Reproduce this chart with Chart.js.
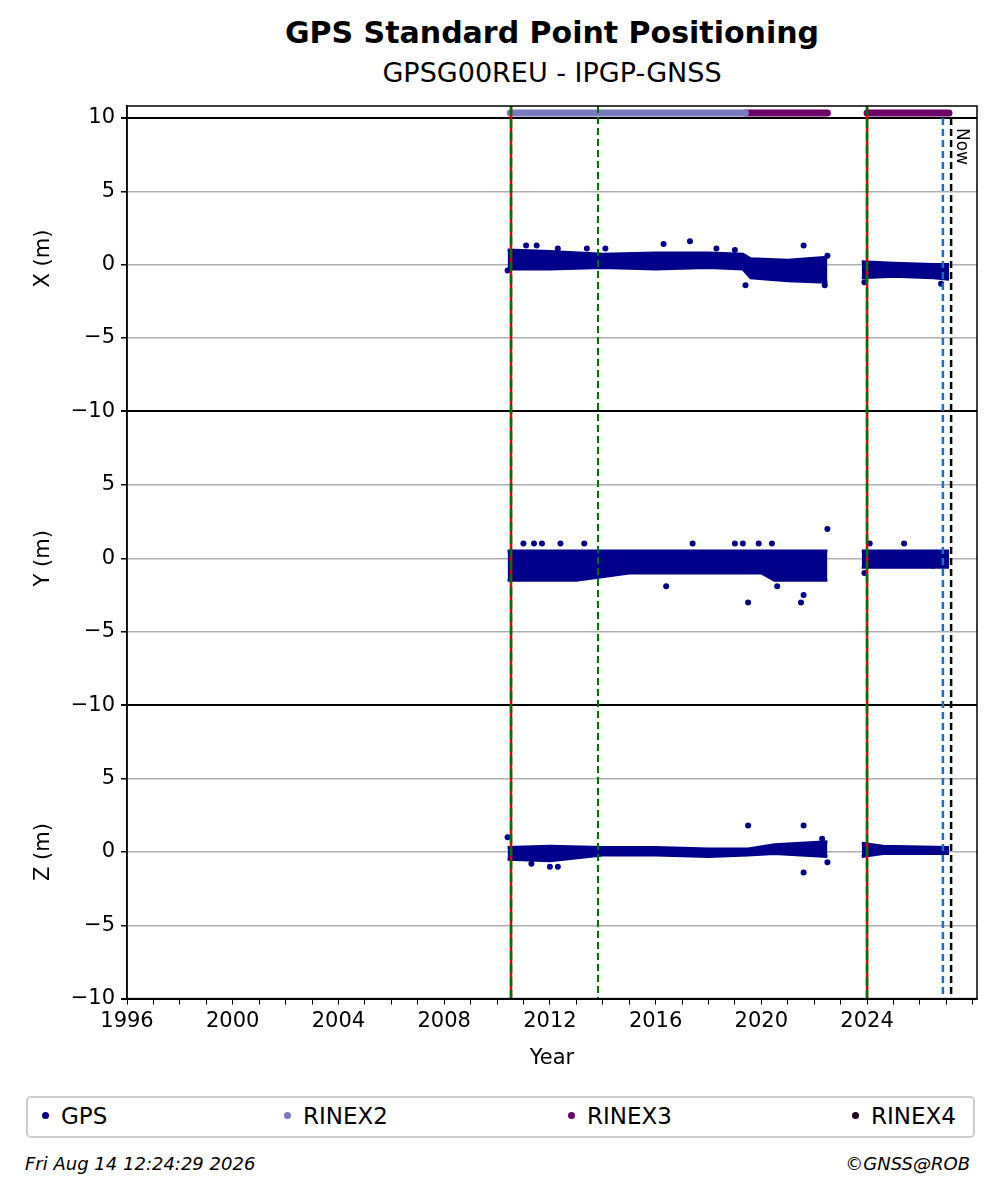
<!DOCTYPE html>
<html><head><meta charset="utf-8">
<script src="https://cdn.jsdelivr.net/npm/chart.js@4"></script>
<style>
body{margin:0;width:997px;height:1194px;background:#fff;font-family:"DejaVu Sans",sans-serif;position:relative;overflow:hidden}
#wrap{position:absolute;left:0;top:0;width:997px;height:1085px}
.t{position:absolute;left:127px;width:850px;text-align:center;color:#000;white-space:nowrap}
#legend{position:absolute;left:26px;top:1096px;width:949px;height:42px;border:2px solid #ccc;border-radius:5px;box-sizing:border-box}
.li{position:absolute;top:5px;font-size:23px}
.li span{display:inline-block;width:7px;height:7px;border-radius:50%;margin-right:12px;vertical-align:middle;position:relative;top:-2px}
.foot{position:absolute;top:1153px;font-size:18px;font-style:italic}
</style></head><body>
<div class="t" style="top:15px;font-size:30px;font-weight:bold">GPS Standard Point Positioning</div>
<div class="t" style="top:57px;font-size:27px">GPSG00REU - IPGP-GNSS</div>
<div id="wrap"><canvas id="c"></canvas></div>
<div id="legend">
<div class="li" style="left:14px"><span style="background:#00008B"></span>GPS</div>
<div class="li" style="left:256px"><span style="background:#7B7BBF"></span>RINEX2</div>
<div class="li" style="left:540px"><span style="background:#6B0066"></span>RINEX3</div>
<div class="li" style="left:824px"><span style="background:#220022"></span>RINEX4</div>
</div>
<div class="foot" style="left:25px">Fri Aug 14 12:24:29 2026</div>
<div class="foot" style="right:27px">©GNSS@ROB</div>
<script>
// envelopes of the dense daily solutions [year, value]
const xUpper = [[2010.4,1.0],[2012,0.9],[2014,0.7],[2016,0.8],[2018,0.8],[2019.3,0.7],[2019.6,0.4],[2021,0.3],[2022.5,0.5],[null,null],[2023.8,0.2],[2025,0.1],[2026.5,0.0],[2027.1,0.0]];
const xLower = [[2010.4,-0.3],[2012,-0.3],[2014,-0.2],[2016,-0.3],[2018,-0.2],[2019.3,-0.3],[2019.6,-0.9],[2021,-1.1],[2022.5,-1.2],[null,null],[2023.8,-0.9],[2025,-0.8],[2026.5,-0.9],[2027.1,-1.0]];
const xOut = [[2010.4,-0.4],[2011.1,1.3],[2011.5,1.3],[2012.3,1.1],[2013.4,1.1],[2014.1,1.1],[2016.3,1.4],[2017.3,1.6],[2018.3,1.1],[2019.0,1.0],[2019.4,-1.4],[2021.6,1.3],[2022.4,-1.4],[2022.5,0.6],[2023.9,-1.2],[2026.8,-1.3]];
const yUpper = [[2010.4,0.5],[2013,0.5],[2016,0.5],[2019,0.5],[2020,0.5],[2022.5,0.5],[null,null],[2023.8,0.5],[2027.1,0.5]];
const yLower = [[2010.4,-1.5],[2013,-1.5],[2015,-1.0],[2019,-1.0],[2020,-1.0],[2020.5,-1.5],[2022.5,-1.5],[null,null],[2023.8,-0.6],[2027.1,-0.6]];
const yOut = [[2011.0,1.0],[2011.4,1.0],[2011.7,1.0],[2012.4,1.0],[2013.3,1.0],[2016.4,-1.9],[2017.4,1.0],[2019.0,1.0],[2019.3,1.0],[2019.5,-3.0],[2019.9,1.0],[2020.4,1.0],[2020.6,-1.9],[2021.5,-3.0],[2021.6,-2.5],[2022.5,2.0],[2023.9,-1.0],[2024.1,1.0],[2025.4,1.0],[2026.5,-0.5]];
const zUpper = [[2010.4,0.3],[2012,0.4],[2014,0.3],[2016,0.3],[2018,0.2],[2019.5,0.2],[2020.5,0.5],[2022.5,0.7],[null,null],[2023.8,0.6],[2024.6,0.4],[2027.1,0.3]];
const zLower = [[2010.4,-0.5],[2012,-0.6],[2014,-0.2],[2016,-0.2],[2018,-0.3],[2019.5,-0.2],[2020.5,-0.1],[2022.5,-0.3],[null,null],[2023.8,-0.3],[2024.6,-0.1],[2027.1,-0.1]];
const zOut = [[2010.4,1.0],[2011.3,-0.8],[2012.0,-1.0],[2012.3,-1.0],[2019.5,1.8],[2021.6,1.8],[2021.6,-1.4],[2022.3,0.9],[2022.5,-0.7]];
// data availability strip
const rinex2 = [[2010.5,10.34],[2019.4,10.34]];
const rinex3a = [[2019.4,10.34],[2022.5,10.34]];
const rinex3b = [[2024.0,10.34],[2027.1,10.34]];
// events
const redGreen = [2010.53, 2024.0];
const greenOnly = [2013.82];
const blueEv = [2026.87];
const nowYear = 2027.18;
const yearTicks = [1996,2000,2004,2008,2012,2016,2020,2024];

const BLUE = '#00008B';
const FONT = {size:21,family:'DejaVu Sans'};
const pt = a => a.map(p => ({x:p[0], y:p[1]}));
function band(up, lo, out, axis){
  return [
    {type:'line',data:pt(up),yAxisID:axis,borderColor:BLUE,borderWidth:3,pointRadius:0,fill:false,spanGaps:false,tension:0},
    {type:'line',data:pt(lo),yAxisID:axis,borderColor:BLUE,borderWidth:3,pointRadius:0,fill:'-1',backgroundColor:BLUE,spanGaps:false,tension:0},
    {type:'scatter',data:pt(out),yAxisID:axis,pointRadius:3,backgroundColor:BLUE,borderWidth:0}
  ];
}
function strip(d,col){return {type:'line',data:pt(d),yAxisID:'y1',borderColor:col,borderWidth:7,borderCapStyle:'round',pointRadius:0,fill:false};}

const fmt = v => v < 0 ? '\u2212' + Math.abs(v) : String(v);
const isEdge = c => c.tick && Math.abs(c.tick.value) === 10;
function yAxis(title, weight, top, showTop){
  return {type:'linear',position:'left',stack:'p',stackWeight:weight,min:-10,max:top,offset:false,
    title:{display:true,text:title,font:FONT,color:'#000',padding:4},
    afterBuildTicks:s=>{s.ticks=(showTop?[-10,-5,0,5,10]:[-10,-5,0,5]).map(v=>({value:v}));},
    afterFit:s=>{s.width=100;},
    ticks:{color:'#000',font:FONT,callback:fmt,padding:6},
    grid:{color:c=>isEdge(c)?'#000':'#b0b0b0',lineWidth:c=>isEdge(c)?2:1.5,tickLength:6,tickColor:'#000'},
    border:{color:'#000',width:1.5}};
}

const eventsPlugin = {id:'ev',afterDatasetsDraw(ch){
  const c=ch.ctx, a=ch.chartArea, xs=ch.scales.x;
  const top=ch.scales.y1.getPixelForValue(10);
  const line=(yr,col,dash,w,t0)=>{const x=xs.getPixelForValue(yr);c.save();c.strokeStyle=col;c.lineWidth=w;c.setLineDash(dash);c.beginPath();c.moveTo(x,t0);c.lineTo(x,a.bottom);c.stroke();c.restore();};
  redGreen.forEach(y=>{line(y,'#e00000',[],2.5,a.top);line(y,'#007000',[9,4],2.5,a.top);});
  greenOnly.forEach(y=>line(y,'#007000',[7,4],2,a.top));
  blueEv.forEach(y=>line(y,'#1f6fc0',[7,4],2.5,top));
  line(nowYear,'#000',[7,4],2.5,top);
  const x=xs.getPixelForValue(nowYear);
  c.save();c.translate(x+10,128);c.rotate(Math.PI/2);c.fillStyle='#000';c.font='17px DejaVu Sans';c.textBaseline='middle';c.fillText('Now',0,0);c.restore();
}};

new Chart(document.getElementById('c'),{
  data:{datasets:[...band(xUpper,xLower,xOut,'y1'),...band(yUpper,yLower,yOut,'y2'),...band(zUpper,zLower,zOut,'y3'),
    strip(rinex2,'#7B7BBF'),strip(rinex3a,'#6B0066'),strip(rinex3b,'#6B0066')]},
  options:{responsive:true,maintainAspectRatio:false,animation:false,
    layout:{padding:{left:27,right:20,top:106,bottom:10}},
    plugins:{legend:{display:false},tooltip:{enabled:false}},
    scales:{
      x:{type:'linear',min:1996,max:2028.16,
        afterBuildTicks:s=>{const t=[];for(let y=1996;y<=2028;y++)t.push({value:y});s.ticks=t;},
        ticks:{color:'#000',font:FONT,autoSkip:false,maxRotation:0,callback:v=>yearTicks.includes(v)?String(v):'',padding:4},
        grid:{display:true,drawOnChartArea:false,tickColor:'#000',tickLength:6},
        title:{display:true,text:'Year',font:FONT,color:'#000',padding:{top:8}},
        border:{color:'#000',width:1.5}},
      y3:yAxis('Z (m)',293,10,false),
      y2:yAxis('Y (m)',294,10,false),
      y1:yAxis('X (m)',305,10.82,true)
    }},
  plugins:[eventsPlugin,{id:'rb',afterDraw(ch){const c=ch.ctx,a=ch.chartArea;c.save();c.strokeStyle='#000';c.lineWidth=1.5;c.strokeRect(a.left,a.top,a.right-a.left,a.bottom-a.top);c.restore();}}]
});
</script></body></html>
